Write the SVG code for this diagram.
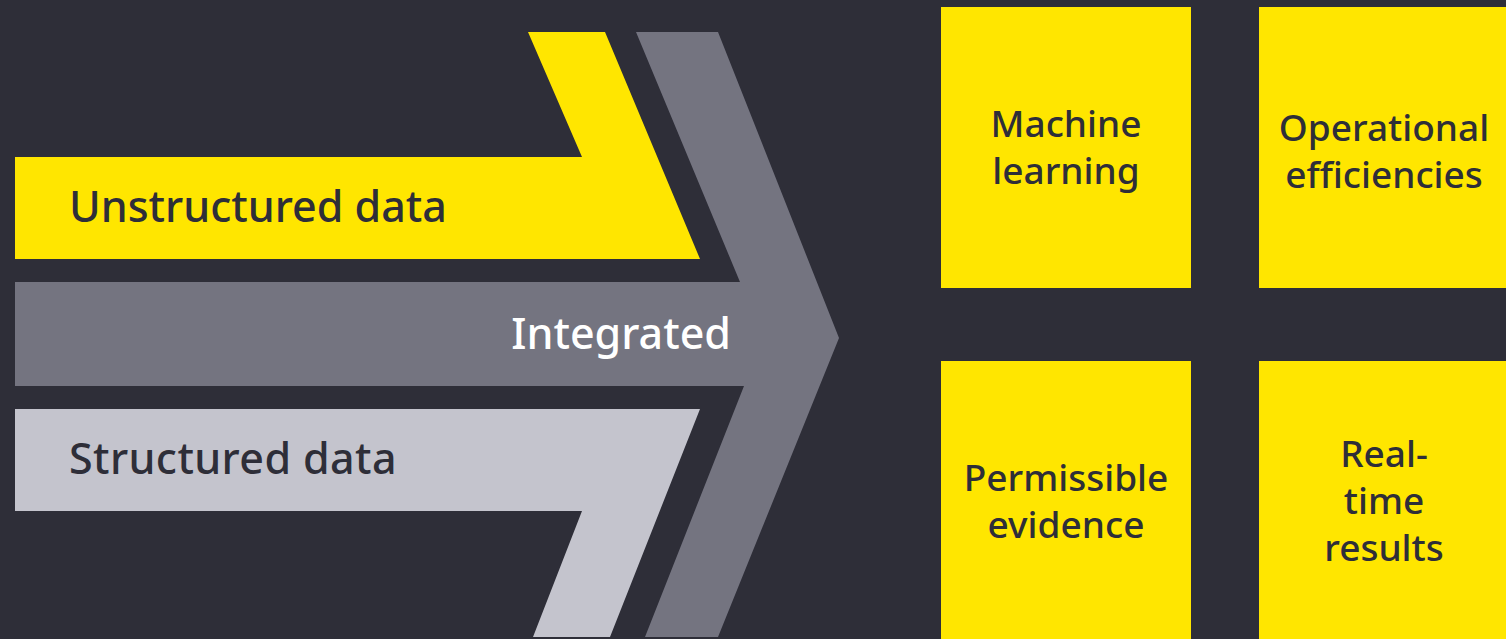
<svg xmlns="http://www.w3.org/2000/svg" width="1506" height="639" viewBox="0 0 1506 639">
<style>
.bg{fill:#2e2e38}
.yel{fill:#ffe600}
.gry{fill:#747480}
.lgt{fill:#c4c4cd}
.lbl{font-family:"Noto Sans","Liberation Sans",sans-serif;font-size:43px;font-weight:500;fill:#2e2e38}
.wht{fill:#ffffff}
.box{font-family:"Noto Sans","Liberation Sans",sans-serif;font-size:37px;font-weight:500;fill:#2e2e38;text-anchor:middle}
</style>
<rect class="bg" x="0" y="0" width="1506" height="639"/>
<g id="integrated">
<polygon class="gry" points="15,282 740,282 636,32 718,32 839,338 718,637 645,637 744,386 15,386"/>
<text class="lbl wht" x="731" y="349" text-anchor="end" font-size="40.5">Integrated</text>
</g>
<g id="unstructured">
<polygon class="yel" points="15,157 582,157 528,32 605,32 700,259 15,259"/>
<text class="lbl" x="69" y="222">Unstructured data</text>
</g>
<g id="structured">
<polygon class="lgt" points="15,409 700,409 610,637 533,637 582,511 15,511"/>
<text class="lbl" x="69" y="474" letter-spacing="0.4">Structured data</text>
</g>
<g id="machine-learning">
<rect class="yel" x="941" y="7" width="250" height="281"/>
<text class="box" x="1066" y="137">Machine</text>
<text class="box" x="1066" y="184">learning</text>
</g>
<g id="operational-efficiencies">
<rect class="yel" x="1259" y="7" width="250" height="281"/>
<text class="box" x="1384" y="141">Operational</text>
<text class="box" x="1384" y="188">efficiencies</text>
</g>
<g id="permissible-evidence">
<rect class="yel" x="941" y="361" width="250" height="280"/>
<text class="box" x="1066" y="491">Permissible</text>
<text class="box" x="1066" y="538">evidence</text>
</g>
<g id="real-time-results">
<rect class="yel" x="1259" y="361" width="250" height="280"/>
<text class="box" x="1384" y="467">Real-</text>
<text class="box" x="1384" y="514">time</text>
<text class="box" x="1384" y="561">results</text>
</g>
<g id="connectors"></g>
</svg>
